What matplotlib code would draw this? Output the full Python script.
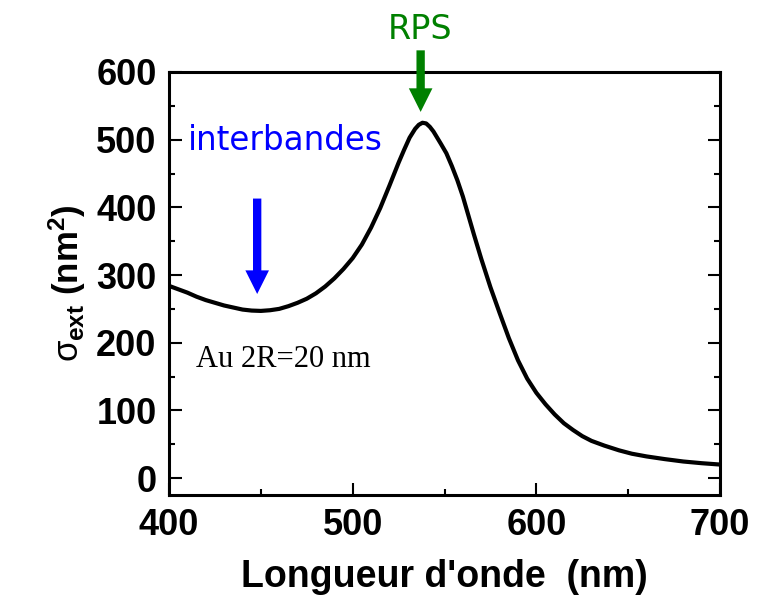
import numpy as np
import matplotlib.pyplot as plt
from matplotlib.ticker import MultipleLocator

# spectre d'extinction, Au 2R = 20 nm
wavelength = [400, 405, 410, 415, 420, 425, 430, 435, 440, 445, 450, 455, 460,
              465, 470, 475, 480, 485, 490, 495, 500, 505, 510, 515, 520, 525,
              528, 531, 534, 536, 538, 540, 542, 544, 546, 548, 551, 554, 557,
              560, 563, 566, 570, 575, 580, 585, 590, 595, 600, 605, 610, 615,
              620, 625, 630, 637, 645, 652, 660, 670, 680, 690, 700]
sigma_ext = [284, 279, 274, 268, 263, 259, 255, 252, 249, 247.5, 247, 248, 250,
             254, 259, 265, 273, 283, 295, 309, 325, 345, 370, 399, 432, 466,
             485, 503, 516, 522, 525, 524, 519, 512, 503, 494, 480, 461, 440,
             416, 388, 360, 324, 282, 244, 207, 174, 147, 126, 109, 94, 81,
             71, 62, 55, 48, 41, 36, 32, 28, 24.5, 22, 20]

rpsx, rps_tail, rps_tip = 537, 632, 541
ibx, ib_tail, ib_tip = 448, 413, 272

plt.rcParams['font.family'] = ['Liberation Sans', 'DejaVu Sans']
plt.rcParams['mathtext.fontset'] = 'custom'
plt.rcParams['mathtext.rm'] = 'Liberation Sans:bold'
plt.rcParams['mathtext.bf'] = 'Liberation Sans:bold'
plt.rcParams['mathtext.it'] = 'Liberation Sans'

fig = plt.figure(figsize=(7.62, 6.03), dpi=100)
ax = fig.add_axes([0.2218, 0.1791, 0.7231, 0.7015])

ax.plot(wavelength, sigma_ext, color='black', lw=3.0,
        solid_capstyle='round', solid_joinstyle='round')

ax.set_xlim(400, 700)
ax.set_ylim(-25, 600)
ax.xaxis.set_major_locator(MultipleLocator(100))
ax.xaxis.set_minor_locator(MultipleLocator(50))
ax.yaxis.set_major_locator(MultipleLocator(100))
ax.yaxis.set_minor_locator(MultipleLocator(50))
ax.tick_params(which='both', direction='in', width=1.5, right=True, top=False,
               labelsize=26, pad=9)
ax.tick_params(which='major', length=9)
ax.tick_params(which='minor', length=4.5)
for lab in ax.get_xticklabels() + ax.get_yticklabels():
    lab.set_fontweight('bold')
for s in ax.spines.values():
    s.set_linewidth(2.2)

ax.set_xlabel("Longueur d'onde  (nm)", fontsize=27, fontweight='bold', labelpad=12)
ax.set_ylabel(r'$\sigma_{\mathbf{ext}}$ (nm$^{\mathbf{2}}$)', fontsize=25,
              fontweight='bold', labelpad=6)

# flèches
ax.annotate('', xy=(rpsx, rps_tip), xytext=(rpsx, rps_tail), annotation_clip=False,
            arrowprops=dict(width=6, headwidth=17, headlength=17, shrink=0,
                            color='#008000', lw=0))
ax.annotate('', xy=(ibx, ib_tip), xytext=(ibx, ib_tail),
            arrowprops=dict(width=6, headwidth=17, headlength=17, shrink=0,
                            color='#0000ff', lw=0))

ax.text(536.6, 649, 'RPS', color='#008000', fontsize=24, ha='center',
        va='baseline', family='DejaVu Sans', clip_on=False)
ax.text(410.3, 485, 'interbandes', color='#0000ff', fontsize=23.5, ha='left',
        va='baseline', family='DejaVu Sans')
ax.text(414.7, 164, 'Au 2R=20 nm', color='black', fontsize=22, ha='left',
        va='baseline', family='Liberation Serif')

fig.savefig('out.png', dpi=100, facecolor='white')
